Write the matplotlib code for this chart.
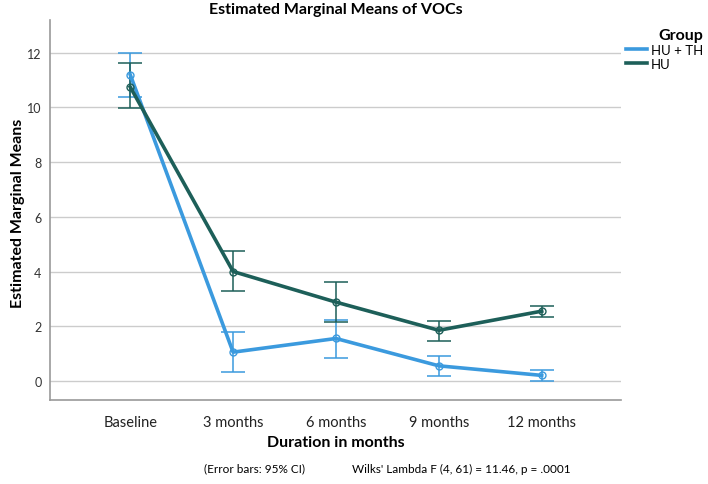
import numpy as np
import matplotlib.pyplot as plt

plt.rcParams['font.family'] = ['Lato', 'DejaVu Sans']

# 推定値と95%CI
timepoints = ['Baseline', '3 months', '6 months', '9 months', '12 months']
hu_th_mean = [11.2, 1.05, 1.55, 0.55, 0.2]
hu_th_low = [10.38, 0.32, 0.83, 0.16, -0.02]
hu_th_high = [12.0, 1.78, 2.22, 0.92, 0.4]
hu_mean = [10.75, 4.0, 2.88, 1.85, 2.55]
hu_low = [9.97, 3.3, 2.16, 1.45, 2.35]
hu_high = [11.62, 4.75, 3.6, 2.2, 2.75]

c_huth = '#3b9ade'
c_hu = '#1d5f59'

fig = plt.figure(figsize=(7.08, 4.85), dpi=100)
ax = fig.add_axes([0.0706, 0.1732, 0.8064, 0.7835])

x = np.arange(len(timepoints))
for mean, lo, hi, col, lab in [(hu_th_mean, hu_th_low, hu_th_high, c_huth, 'HU + TH'),
                               (hu_mean, hu_low, hu_high, c_hu, 'HU')]:
    mean = np.array(mean)
    err = np.vstack([mean - np.array(lo), np.array(hi) - mean])
    ax.errorbar(x, mean, yerr=err, fmt='none', ecolor=col, elinewidth=1.1,
                capsize=8.6, capthick=1.1, zorder=2)
    ax.plot(x, mean, color=col, lw=2.6, label=lab, zorder=3)
    ax.plot(x, mean, 'o', ms=5, mfc='none', mec=col, mew=1, zorder=4)

ax.set_xlim(-0.78, 4.77)
ax.set_ylim(-0.7, 13.2)
ax.set_yticks(range(0, 13, 2))
ax.set_xticks(x)
ax.set_xticklabels(timepoints, fontsize=10.5, color='#222222')
ax.tick_params(axis='y', labelsize=9, colors='#333333', length=0, pad=6)
ax.tick_params(axis='x', length=0, pad=11)
ax.grid(axis='y', color='#cccccc', lw=1)
ax.set_axisbelow(True)
for s in ['top', 'right']:
    ax.spines[s].set_visible(False)
for s in ['left', 'bottom']:
    ax.spines[s].set_color('#999999')
    ax.spines[s].set_linewidth(1.2)

fig.text(0.474, 0.979, 'Estimated Marginal Means of VOCs', ha='center', va='center',
         fontsize=11.5, fontweight='bold')
fig.text(0.026, 0.56, 'Estimated Marginal Means', rotation=90, ha='center', va='center',
         fontsize=11.5, fontweight='bold')
fig.text(0.474, 0.087, 'Duration in months', ha='center', va='center',
         fontsize=11.5, fontweight='bold')
fig.text(0.36, 0.033, '(Error bars: 95% CI)', ha='center', va='center', fontsize=8.5)
fig.text(0.497, 0.033, "Wilks' Lambda F (4, 61) = 11.46, p = .0001",
         ha='left', va='center', fontsize=8.5)

leg = ax.legend(loc='upper left', bbox_to_anchor=(0.995, 1.0), frameon=False,
                title='Group', fontsize=9.5, handlelength=1.6, handletextpad=0.3,
                labelspacing=0.15, borderaxespad=0.2)
leg.get_title().set_fontweight('bold')
leg.get_title().set_fontsize(11.5)
leg._legend_box.align = 'right'

fig.savefig('out.png', dpi=100)
